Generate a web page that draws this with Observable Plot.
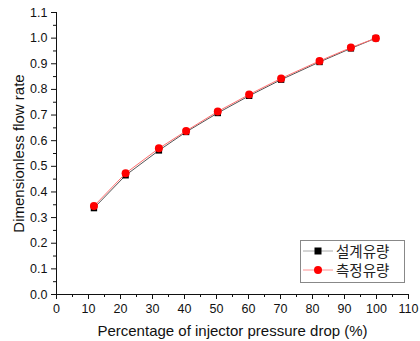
<!DOCTYPE html>
<html>
<head>
<meta charset="utf-8">
<script src="https://cdn.jsdelivr.net/npm/d3@7"></script>
<script src="https://cdn.jsdelivr.net/npm/@observablehq/plot@0.6"></script>
<style>
  html, body { margin: 0; padding: 0; background: #fff; }
  #wrap { position: relative; width: 420px; height: 341px; font-family: "Liberation Sans", Arial, sans-serif; }
  #legend { position: absolute; left: 300px; top: 240px; width: 105px; height: 43px; border: 1px solid #888; background: #fff; box-sizing: border-box; font-family: "Noto Sans CJK KR", sans-serif; font-size: 14.5px; color: #222; }
  #legend .row { display: flex; align-items: center; height: 19px; padding-left: 2px; line-height: 19px; }
  #legend svg { margin-right: 3px; }
</style>
</head>
<body>
<div id="wrap">
  <div id="chart"></div>
  <div id="legend"></div>
</div>
<script>
const pressureDrop = [11.7, 21.6, 32.0, 40.5, 50.4, 60.2, 70.2, 82.2, 92.0, 99.8];
const designFlow   = [0.337, 0.465, 0.562, 0.634, 0.708, 0.775, 0.838, 0.907, 0.960, 1.000];
const measuredFlow = [0.345, 0.473, 0.570, 0.638, 0.714, 0.780, 0.843, 0.911, 0.963, 1.000];
const seriesNames = ["설계유량", "측정유량"];
const xTicks = d3.range(0, 111, 10);
const xMinor = d3.range(5, 110, 10);
const yTicks = d3.range(0, 12).map(d => d / 10);
const yMinor = d3.range(0, 11).map(d => d / 10 + 0.05);

const design = pressureDrop.map((x, i) => ({x, y: designFlow[i]}));
const measured = pressureDrop.map((x, i) => ({x, y: measuredFlow[i]}));

const chart = Plot.plot({
  width: 420,
  height: 341,
  marginLeft: 56,
  marginRight: 12,
  marginTop: 12,
  marginBottom: 47,
  style: { fontFamily: "'Liberation Sans', Arial, sans-serif", fontSize: "12.5px", color: "#111", background: "#fff" },
  x: { domain: [0, 110] },
  y: { domain: [0, 1.1] },
  marks: [
    Plot.axisX({ ticks: xTicks, tickSize: 5, tickPadding: 5, tickFormat: d => d, label: "Percentage of injector pressure drop (%)", labelAnchor: "center", labelArrow: "none", labelOffset: 41, fontSize: 12.5 }),
    Plot.axisX({ ticks: xMinor, tickSize: 3, tickFormat: null, text: null, label: null }),
    Plot.axisY({ ticks: yTicks, tickSize: 5, tickPadding: 4, tickFormat: d3.format(".1f"), label: "Dimensionless flow rate", labelAnchor: "center", labelArrow: "none", labelOffset: 43, fontSize: 12.5 }),
    Plot.axisY({ ticks: yMinor, tickSize: 3, tickFormat: null, text: null, label: null }),
    Plot.ruleY([0], { stroke: "#111" }),
    Plot.ruleX([0], { stroke: "#111" }),
    Plot.line(design, { x: "x", y: "y", stroke: "#555", strokeWidth: 1 }),
    Plot.dot(design, { x: "x", y: "y", symbol: "square", r: 3.6, fill: "#000", stroke: "none" }),
    Plot.line(measured, { x: "x", y: "y", stroke: "#ff6f6f", strokeWidth: 1 }),
    Plot.dot(measured, { x: "x", y: "y", symbol: "circle", r: 4, fill: "#ff0000", stroke: "none" })
  ]
});
chart.querySelectorAll("g[aria-label='x-axis label'] text, g[aria-label='y-axis label'] text").forEach(t => t.setAttribute("font-size", "15"));
document.getElementById("chart").appendChild(chart);

const legendStyles = [
  { line: "#aaa", marker: "square", fill: "#000" },
  { line: "#ff9090", marker: "circle", fill: "#ff0000" }
];
const legend = document.getElementById("legend");
seriesNames.forEach((name, i) => {
  const s = legendStyles[i];
  const row = document.createElement("div");
  row.className = "row";
  const m = s.marker === "square"
    ? `<rect x="11.5" y="5.5" width="7" height="7" fill="${s.fill}"/>`
    : `<circle cx="15" cy="9" r="4" fill="${s.fill}"/>`;
  row.innerHTML = `<svg width="30" height="18"><line x1="0" x2="30" y1="9" y2="9" stroke="${s.line}" stroke-width="1"/>${m}</svg><span>${name}</span>`;
  legend.appendChild(row);
});
</script>
</body>
</html>
